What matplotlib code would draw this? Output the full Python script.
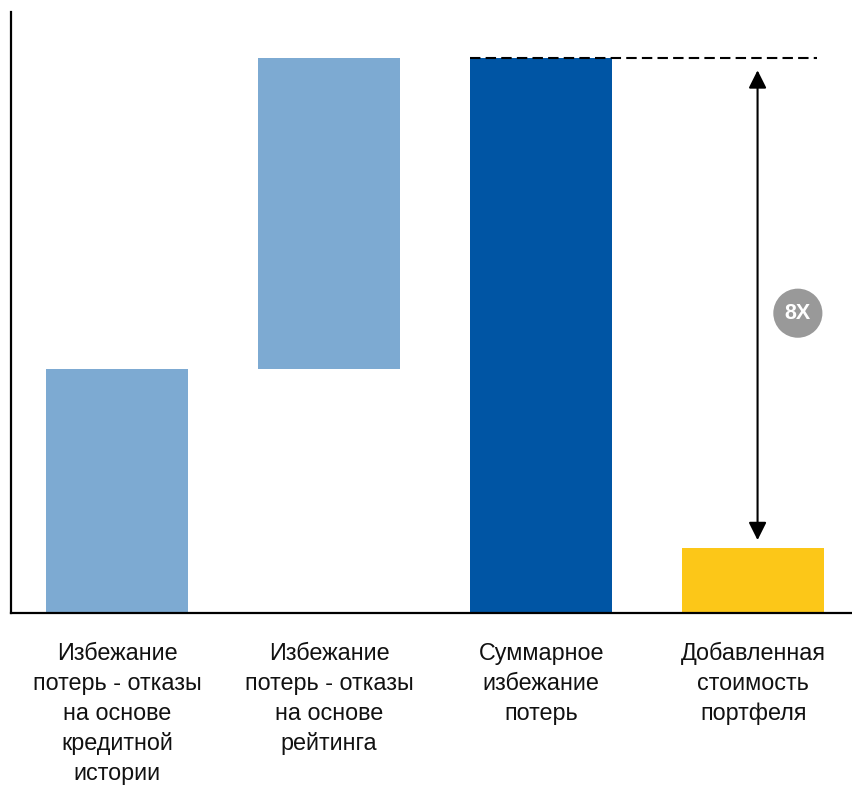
import numpy as np
import matplotlib.pyplot as plt

plt.rcParams['font.family'] = ['Liberation Sans', 'DejaVu Sans']

# значения в условных единицах
categories = ["Избежание\nпотерь - отказы\nна основе\nкредитной\nистории",
              "Избежание\nпотерь - отказы\nна основе\nрейтинга",
              "Суммарное\nизбежание\nпотерь",
              "Добавленная\nстоимость\nпортфеля"]
credit_history = 35.2
rating = 44.8
total = credit_history + rating
added_value = 9.4
multiple_label = "8X"

light_blue = '#7DAAD2'
dark_blue = '#0055A4'
yellow = '#FCC718'

fig = plt.figure(figsize=(8.53, 7.99), dpi=100)
ax = fig.add_axes([11/853, 186/799, 842/853, 601/799])

x = np.arange(len(categories))
heights = [credit_history, rating, total, added_value]
bottoms = [0, credit_history, 0, 0]
colors = [light_blue, light_blue, dark_blue, yellow]
ax.bar(x, heights, bottom=bottoms, width=0.67, color=colors)

# пунктир на уровне суммарного избежания потерь
ax.plot([x[2] - 0.335, x[3] + 0.3], [total, total], ls=(0, (5, 2.5)), color='black', lw=1.5)

# двойная стрелка между итогом и добавленной стоимостью
ax.annotate('', xy=(x[3] + 0.02, total - 1.8), xytext=(x[3] + 0.02, added_value + 1.1),
            arrowprops=dict(arrowstyle='<|-|>', color='black', lw=1.5,
                            mutation_scale=27, shrinkA=0, shrinkB=0))

# кружок с кратностью
mid = (total + added_value) / 2 - 1.5
ax.scatter([x[3] + 0.21], [mid], s=1250, color='#999999', edgecolors='none', zorder=3)
ax.text(x[3] + 0.21, mid, multiple_label, ha='center', va='center',
        fontsize=15.5, fontweight='bold', color='white', zorder=4)

ax.set_xlim(-0.5, 3.47)
ax.set_ylim(0, 86.6)
ax.set_xticks(x)
ax.set_xticklabels(categories, fontsize=16.8, color='#111111', linespacing=1.38)
ax.tick_params(axis='x', length=0, pad=21)
ax.set_yticks([])
for s in ['top', 'right']:
    ax.spines[s].set_visible(False)
for s in ['left', 'bottom']:
    ax.spines[s].set_linewidth(1.6)

fig.savefig('out.png', dpi=100)
